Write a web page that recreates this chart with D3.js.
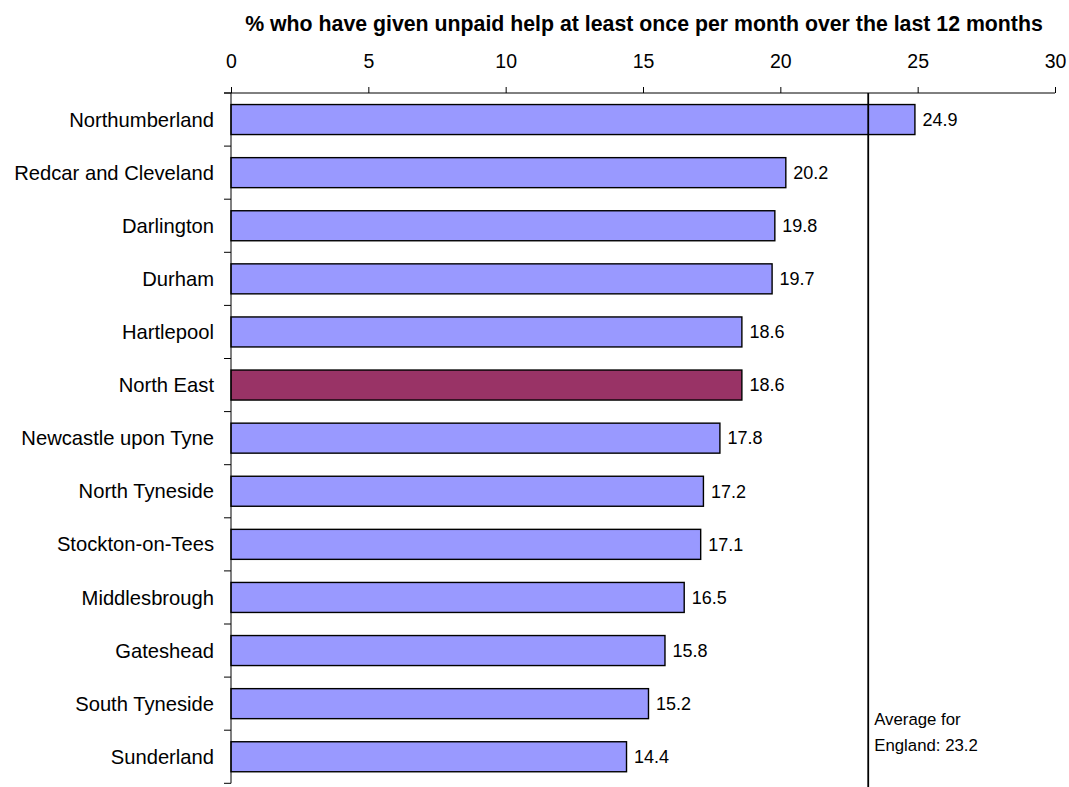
<!DOCTYPE html>
<html>
<head>
<meta charset="utf-8">
<script src="https://cdn.jsdelivr.net/npm/d3@7"></script>
<style>
  body { margin: 0; background: #fff; }
  svg { font-family: "Liberation Sans", Arial, sans-serif; }
</style>
</head>
<body>
<div id="chart"></div>
<script>
// data
const areas = ["Northumberland", "Redcar and Cleveland", "Darlington", "Durham", "Hartlepool",
    "North East", "Newcastle upon Tyne", "North Tyneside", "Stockton-on-Tees",
    "Middlesbrough", "Gateshead", "South Tyneside", "Sunderland"];
const values = [24.9, 20.2, 19.8, 19.7, 18.6, 18.6, 17.8, 17.2, 17.1, 16.5, 15.8, 15.2, 14.4];
const xTicks = [0, 5, 10, 15, 20, 25, 30];
const englandAverage = 23.2;
const highlight = "North East";

const width = 1069, height = 787;
const margin = { top: 93, right: 14, bottom: 4, left: 231 };

const svg = d3.select("#chart").append("svg")
    .attr("width", width)
    .attr("height", height);

const x = d3.scaleLinear().domain([0, 30]).range([margin.left, width - margin.right]);
const y = d3.scaleBand().domain(areas)
    .range([margin.top, margin.top + 53.1 * areas.length])
    .paddingInner(0.435).paddingOuter(0.2175);

// title
svg.append("text")
    .attr("x", 644)
    .attr("y", 31)
    .attr("text-anchor", "middle")
    .style("font-size", "21.3px")
    .style("font-weight", "bold")
    .text("% who have given unpaid help at least once per month over the last 12 months");

// bars
svg.append("g")
    .selectAll("rect")
    .data(areas)
    .enter().append("rect")
    .attr("x", x(0))
    .attr("y", d => y(d))
    .attr("width", (d, i) => x(values[i]) - x(0))
    .attr("height", y.bandwidth())
    .attr("fill", d => d === highlight ? "#993366" : "#9999FF")
    .attr("stroke", "#000")
    .attr("stroke-width", 1.4);

// value labels
svg.append("g")
    .selectAll("text")
    .data(areas)
    .enter().append("text")
    .attr("x", (d, i) => x(values[i]) + 7.5)
    .attr("y", d => y(d) + y.bandwidth() / 2)
    .attr("dy", "0.35em")
    .style("font-size", "18px")
    .text((d, i) => values[i].toFixed(1));

// top axis
const xAxis = svg.append("g")
    .attr("transform", `translate(0,${margin.top})`)
    .call(d3.axisTop(x).tickValues(xTicks).tickSize(6).tickPadding(19));
xAxis.select(".domain").remove();
xAxis.append("line")
    .attr("x1", margin.left - 7).attr("x2", x(30))
    .attr("stroke", "#000");
xAxis.selectAll(".tick line").attr("stroke", "#000");
xAxis.selectAll(".tick text")
    .attr("fill", "#000")
    .style("font-size", "19.5px")
    .style("font-family", "'Liberation Sans', Arial, sans-serif");

// left axis, ticks on the band boundaries
const yAxis = svg.append("g");
yAxis.append("line")
    .attr("x1", x(0)).attr("x2", x(0))
    .attr("y1", margin.top).attr("y2", y.range()[1])
    .attr("stroke", "#000");
const step = y.step();
const bounds = d3.range(areas.length + 1).map(i => y.range()[0] + i * step);
yAxis.selectAll(".btick")
    .data(bounds)
    .enter().append("line")
    .attr("x1", x(0) - 7).attr("x2", x(0))
    .attr("y1", d => d).attr("y2", d => d)
    .attr("stroke", "#000");
yAxis.selectAll(".lab")
    .data(areas)
    .enter().append("text")
    .attr("x", x(0) - 17)
    .attr("y", d => y(d) + y.bandwidth() / 2)
    .attr("dy", "0.35em")
    .attr("text-anchor", "end")
    .style("font-size", "20.2px")
    .text(d => d);

// England average line
svg.append("line")
    .attr("x1", x(englandAverage)).attr("x2", x(englandAverage))
    .attr("y1", margin.top).attr("y2", height)
    .attr("stroke", "#000")
    .attr("stroke-width", 1.8);

const avgText = svg.append("text")
    .attr("x", x(englandAverage) + 6)
    .attr("y", 725)
    .style("font-size", "16.8px");
avgText.append("tspan").attr("x", x(englandAverage) + 6).text("Average for");
avgText.append("tspan").attr("x", x(englandAverage) + 6).attr("dy", 25.5)
    .text("England: " + englandAverage);
</script>
</body>
</html>
